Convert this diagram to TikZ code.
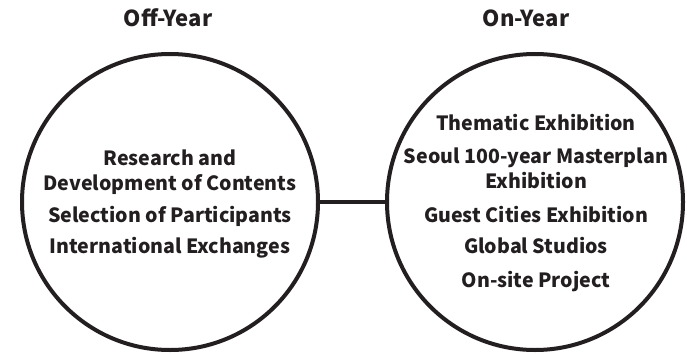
\documentclass[tikz,border=0pt]{standalone}
\usepackage{fontspec}
\setmainfont{Noto Sans CJK KR}
\definecolor{ink}{HTML}{231F20}
\begin{document}
\begin{tikzpicture}[x=1pt,y=-1pt,
  ring/.style={circle,draw=ink,line width=4pt,minimum size=296pt,inner sep=0pt},
  ttl/.style={anchor=base,text=ink,font=\fontsize{22}{26}\selectfont\bfseries,inner sep=0pt},
  itm/.style={anchor=base,text=ink,font=\fontsize{19.6}{24}\selectfont\bfseries,inner sep=0pt}]
\useasboundingbox[fill=white] (0,0) rectangle (687,353);
\node[ring] (off) at (170,202) {};
\node[ring] (on) at (535,202) {};
\draw[ink,line width=4pt] (off.east) -- (on.west);
\node[ttl] (toff) at (168,27) {Off-Year};
\node[ttl] (ton) at (526,27) {On-Year};
\node[itm] (a1) at (170,165) {Research and};
\node[itm] (a2) at (170,190) {Development of Contents};
\node[itm] (a3) at (170,222) {Selection of Participants};
\node[itm] (a4) at (170,253) {International Exchanges};
\node[itm] (b1) at (536,130) {Thematic Exhibition};
\node[itm] (b2) at (536,163) {Seoul 100-year Masterplan};
\node[itm] (b3) at (536,188) {Exhibition};
\node[itm] (b4) at (536,222) {Guest Cities Exhibition};
\node[itm] (b5) at (536,253) {Global Studios};
\node[itm] (b6) at (536,287) {On-site Project};
\end{tikzpicture}
\end{document}
